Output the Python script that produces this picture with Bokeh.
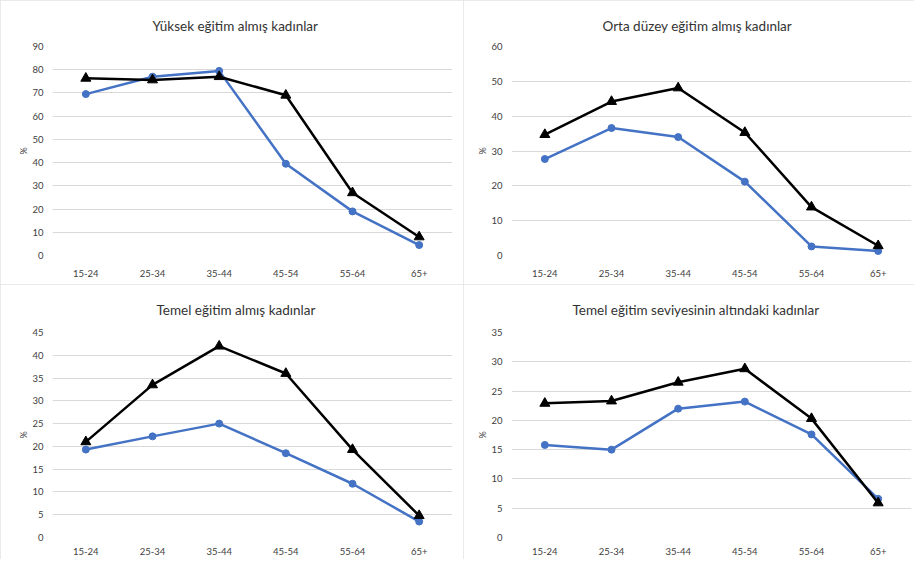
from bokeh.plotting import figure
from bokeh.layouts import gridplot
from bokeh.models import Range1d, FixedTicker, Title
from bokeh.embed import file_html
from bokeh.resources import INLINE

ages = ["15-24", "25-34", "35-44", "45-54", "55-64", "65+"]

titles = [
    "Yüksek eğitim almış kadınlar",
    "Orta düzey eğitim almış kadınlar",
    "Temel eğitim almış kadınlar",
    "Temel eğitim seviyesinin altındaki kadınlar",
]

# blue (circle) series
yuksek_blue = [69.5, 77.0, 79.5, 39.5, 19.0, 4.5]
orta_blue = [27.7, 36.6, 34.0, 21.2, 2.6, 1.3]
temel_blue = [19.3, 22.2, 25.0, 18.5, 11.8, 3.5]
alti_blue = [15.8, 15.0, 22.0, 23.2, 17.6, 6.6]

# black (triangle) series
yuksek_black = [76.3, 75.6, 77.0, 69.0, 27.0, 8.0]
orta_black = [34.7, 44.2, 48.1, 35.3, 13.9, 2.8]
temel_black = [21.0, 33.5, 42.0, 36.0, 19.3, 4.8]
alti_black = [22.9, 23.3, 26.5, 28.8, 20.3, 5.9]

y_max = [90, 60, 45, 35]
y_step = [10, 10, 5, 5]

blues = [yuksek_blue, orta_blue, temel_blue, alti_blue]
blacks = [yuksek_black, orta_black, temel_black, alti_black]

# layout: (left, right, top, bottom, frame_h, title_offset, x_standoff, title_standoff)
geom = [
    (52, 11, 46, 29, 209, 100, 14, 26),
    (48, 3, 46, 29, 209, 91, 14, 26),
    (52, 11, 48, 22, 205, 104, 10, 29),
    (48, 3, 48, 22, 205, 61, 10, 29),
]

FONT = "Lato"
figs = []
for i in range(4):
    left, right, top, bottom, fh, toff, xso, tso = geom[i]
    p = figure(
        x_range=ages,
        y_range=Range1d(0, y_max[i]),
        frame_width=400,
        frame_height=fh,
        min_border_left=left,
        min_border_right=right,
        min_border_top=top,
        min_border_bottom=bottom,
        output_backend="svg",
        toolbar_location=None,
    )
    t = Title(text=titles[i], align="left", offset=toff, standoff=tso,
              text_font=FONT, text_font_size="13.5px", text_font_style="normal",
              text_color="#333333")
    p.add_layout(t, "above")
    p.outline_line_color = None
    p.xgrid.grid_line_color = None
    p.ygrid.grid_line_color = "#d9d9d9"
    p.ygrid.grid_line_width = 1
    p.yaxis.ticker = FixedTicker(ticks=list(range(0, y_max[i] + 1, y_step[i])))
    for ax in (p.xaxis, p.yaxis):
        ax.axis_line_color = None
        ax.major_tick_line_color = None
        ax.minor_tick_line_color = None
        ax.major_tick_out = 0
        ax.major_tick_in = 0
        ax.major_label_text_font = FONT
        ax.major_label_text_font_size = "9.5px"
        ax.major_label_text_color = "#404040"
    p.xaxis.major_label_standoff = xso
    p.yaxis.major_label_standoff = 9
    p.yaxis.axis_label = "%"
    p.yaxis.axis_label_text_font = FONT
    p.yaxis.axis_label_text_font_size = "9px"
    p.yaxis.axis_label_text_font_style = "normal"
    p.yaxis.axis_label_text_color = "#404040"
    p.yaxis.axis_label_standoff = 0

    p.line(ages, blues[i], line_color="#4472C4", line_width=2.5)
    p.scatter(ages, blues[i], marker="circle", size=7,
              fill_color="#4472C4", line_color="#4472C4")
    p.line(ages, blacks[i], line_color="black", line_width=2.5)
    p.scatter(ages, blacks[i], marker="triangle", size=10,
              fill_color="black", line_color="black")
    p.styles = {"outline": "2px solid #e3e3e3", "outline-offset": "-2px"}
    figs.append(p)

grid = gridplot([[figs[0], figs[1]], [figs[2], figs[3]]], toolbar_location=None)

open("out.html", "w").write(file_html(grid, INLINE))
